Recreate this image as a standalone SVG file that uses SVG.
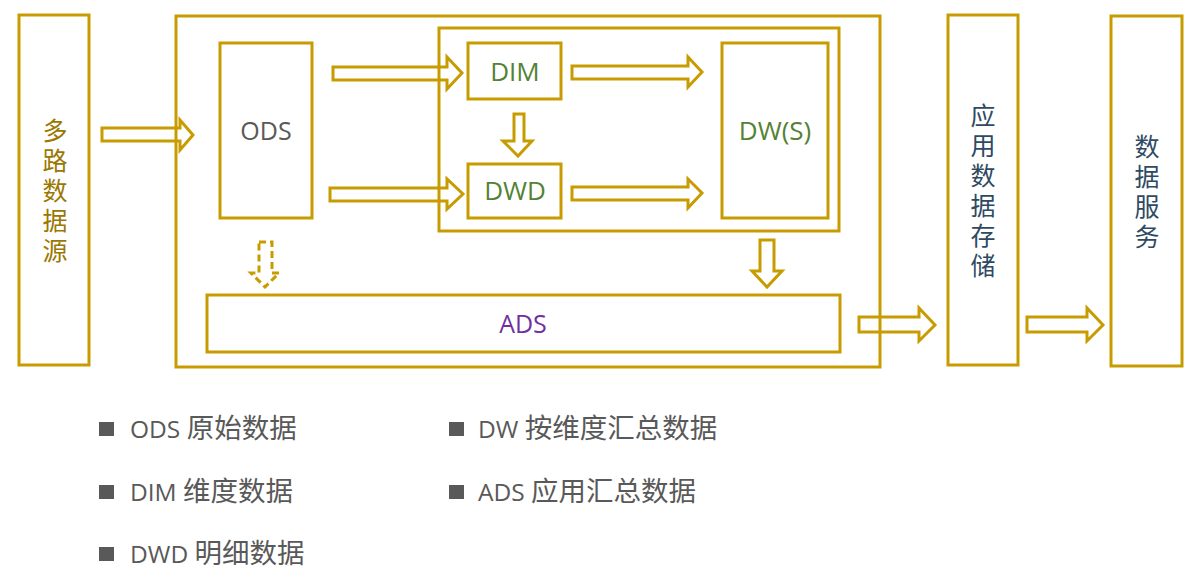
<svg xmlns="http://www.w3.org/2000/svg" width="1199" height="587" viewBox="0 0 1199 587">
<style>
.box{fill:none;stroke:#C89B00;stroke-width:3}
.arr{fill:none;stroke:#C89B00;stroke-width:3;stroke-linejoin:miter}
.dash{stroke-dasharray:7 4}
.t{font-family:"Open Sans","Noto Sans CJK SC",sans-serif;text-anchor:middle}
.v{font-family:"Noto Sans CJK SC",sans-serif;text-anchor:middle;writing-mode:vertical-rl;font-size:25px;letter-spacing:5px}
.gray{fill:#595959;font-size:25px}
.green{fill:#548235;font-size:26px}
.purple{fill:#7030A0;font-size:25px}
.gold{fill:#9A7700}
.blue{fill:#2E4A62}
.leg{font-family:"Open Sans","Noto Sans CJK SC",sans-serif;font-size:24.5px;fill:#595959}
.cjk{font-size:27.5px}
.sq{fill:#595959}
</style>
<rect width="1199" height="587" fill="#ffffff"/>
<g id="connectors">
<polygon class="arr" points="102,128 180,128 180,120 193,135 180,150 180,141 102,141"/>
<polygon class="arr" points="333,67 447,67 447,57 462,73 447,89 447,80 333,80"/>
<polygon class="arr" points="330,188 447,188 447,179 463,194 447,209 447,201 330,201"/>
<polygon class="arr" points="514,114 524,114 524,141 532,141 518,156 503,141 514,141"/>
<polygon class="arr" points="572,66 688,66 688,57 702,72 688,87 688,79 572,79"/>
<polygon class="arr" points="572,187 688,187 688,179 702,193 688,208 688,200 572,200"/>
<polygon class="arr" points="760,240 774,240 774,271 782,271 767,287 752,271 760,271"/>
<polygon class="arr dash" points="259,242 272,242 272,273 279,273 265,287 251,273 259,273"/>
<polygon class="arr" points="859,317 919,317 919,308 935,325 919,341 919,332 859,332"/>
<polygon class="arr" points="1027,317 1087,317 1087,308 1103,325 1087,341 1087,332 1027,332"/>
</g>
<g id="source">
<rect class="box" x="19" y="15" width="70" height="350"/>
<text class="v gold" x="55" y="193">多路数据源</text>
</g>
<g id="warehouse">
<rect class="box" x="176" y="16" width="704" height="351"/>
</g>
<g id="ods">
<rect class="box" x="220" y="43" width="92" height="175"/>
<text class="t gray" x="266" y="140">ODS</text>
</g>
<g id="dw-group">
<rect class="box" x="439" y="28" width="400" height="203"/>
</g>
<g id="dim">
<rect class="box" x="468" y="43" width="93" height="56"/>
<text class="t green" x="515" y="81">DIM</text>
</g>
<g id="dwd">
<rect class="box" x="468" y="164" width="93" height="54"/>
<text class="t green" x="515" y="200">DWD</text>
</g>
<g id="dws">
<rect class="box" x="722" y="43" width="106" height="175"/>
<text class="t green" x="775" y="140">DW(S)</text>
</g>
<g id="ads">
<rect class="box" x="207" y="295" width="633" height="57"/>
<text class="t purple" x="523" y="333">ADS</text>
</g>
<g id="app-storage">
<rect class="box" x="948" y="15" width="70" height="350"/>
<text class="v blue" x="983" y="193">应用数据存储</text>
</g>
<g id="data-service">
<rect class="box" x="1111" y="16" width="71" height="350"/>
<text class="v blue" x="1147" y="194">数据服务</text>
</g>
<g id="legend">
<rect class="sq" x="99" y="422" width="15" height="14"/>
<text class="leg" x="130" y="438">ODS <tspan class="cjk">原始数据</tspan></text>
<rect class="sq" x="99" y="485" width="15" height="14"/>
<text class="leg" x="130" y="501">DIM <tspan class="cjk">维度数据</tspan></text>
<rect class="sq" x="99" y="547" width="15" height="14"/>
<text class="leg" x="130" y="563">DWD <tspan class="cjk">明细数据</tspan></text>
<rect class="sq" x="449" y="422" width="15" height="14"/>
<text class="leg" x="478" y="438">DW <tspan class="cjk">按维度汇总数据</tspan></text>
<rect class="sq" x="449" y="485" width="15" height="14"/>
<text class="leg" x="478" y="501">ADS <tspan class="cjk">应用汇总数据</tspan></text>
</g>
</svg>
